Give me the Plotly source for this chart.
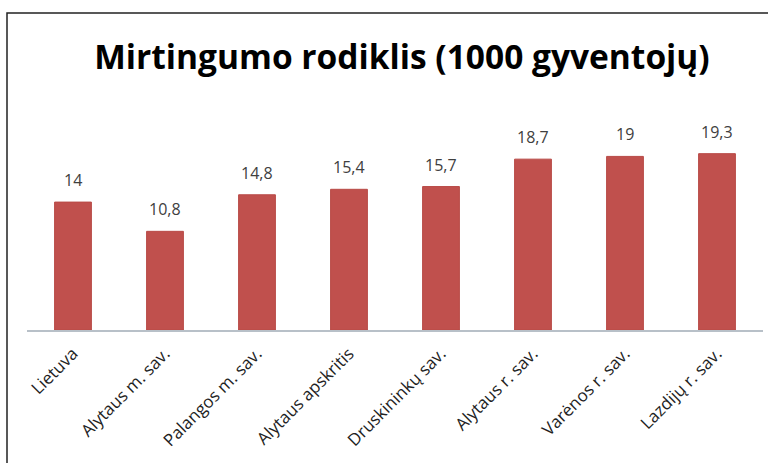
import plotly.graph_objects as go

categories = ["Lietuva", "Alytaus m. sav.", "Palangos m. sav.", "Alytaus apskritis",
              "Druskininkų sav.", "Alytaus r. sav.", "Varėnos r. sav.", "Lazdijų r. sav."]
values = [14, 10.8, 14.8, 15.4, 15.7, 18.7, 19, 19.3]
title_text = "Mirtingumo rodiklis (1000 gyventojų)"

labels = [str(v).replace(".", ",") for v in values]

W, H = 768, 463
L, R, T, B = 27, 5, 129, 133
pw, ph = W - L - R, H - T - B

fig = go.Figure()
fig.add_trace(go.Bar(
    x=categories, y=values,
    marker=dict(color="#c0504d", line=dict(color="#b84a47", width=1)),
))

for c, v, t in zip(categories, values, labels):
    fig.add_annotation(x=c, y=v, text=t, showarrow=False, yanchor="middle", yshift=22,
                       font=dict(family="Open Sans", size=16, color="#404040"))

fig.update_layout(
    width=W, height=H,
    margin=dict(l=L, r=R, t=T, b=B),
    paper_bgcolor="white", plot_bgcolor="white",
    bargap=0.6, showlegend=False,
    title=dict(text=title_text, x=402 / W, xanchor="center", y=1 - 57 / H, yanchor="middle",
               font=dict(family="Open Sans", size=33.5, color="#000000", weight="bold")),
    xaxis=dict(showline=True, linecolor="#b8c0c8", linewidth=2, ticks="",
               tickangle=-45, tickfont=dict(family="Open Sans", size=17, color="#222222"),
               ticklabelstandoff=5,
               showgrid=False, automargin=False),
    yaxis=dict(range=[0, 22], visible=False, showgrid=False, automargin=False),
    shapes=[dict(type="rect", xref="paper", yref="paper",
                 x0=(7 - L) / pw, x1=(W + 20 - L) / pw,
                 y0=(H - B - (H + 20)) / ph, y1=(H - B - 13) / ph,
                 line=dict(color="#222222", width=1.5), fillcolor="rgba(0,0,0,0)")],
)

fig.write_html("out.html", config={"displayModeBar": False},
               post_script="document.body.style.margin='0';document.body.style.overflow='hidden';")
